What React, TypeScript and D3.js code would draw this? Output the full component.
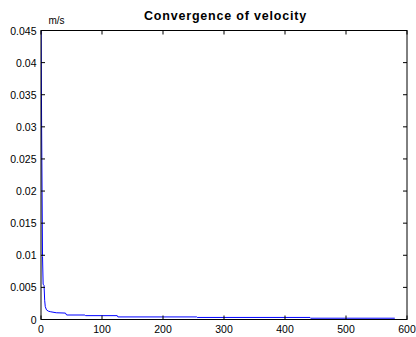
import React from "react";
import * as d3 from "d3";

const iterations = [0, 1, 2.5, 3.5, 5, 6, 7, 9, 12, 16, 25, 40, 42, 72, 73, 125, 126, 255, 256, 441, 442, 580];
const velocity = [0.05, 0.03, 0.0098, 0.0055, 0.0053, 0.003, 0.002, 0.0015, 0.0013, 0.0012, 0.00105, 0.001, 0.0007, 0.0007, 0.0006, 0.0006, 0.0004, 0.0004, 0.00032, 0.00032, 0.0002, 0.0002];
const xTicks = [0, 100, 200, 300, 400, 500, 600];
const yTicks = [0, 0.005, 0.01, 0.015, 0.02, 0.025, 0.03, 0.035, 0.04, 0.045];
const yTickLabels = ["0", "0.005", "0.01", "0.015", "0.02", "0.025", "0.03", "0.035", "0.04", "0.045"];
const title = "Convergence of velocity";
const unit = "m/s";

const W = 416, H = 337;
const L = 41, R = 407, T = 30.5, B = 319.5;

export default function App() {
  const x = d3.scaleLinear().domain([0, 600]).range([L, R]);
  const y = d3.scaleLinear().domain([0, 0.045]).range([B, T]);
  const pts = iterations.map((v, i) => [v, velocity[i]] as [number, number]);
  const line = d3.line<[number, number]>().x(d => x(d[0])).y(d => y(d[1]));
  const font = "Arial, 'Liberation Sans', sans-serif";
  const tl = 4;
  return (
    <svg width={W} height={H} style={{ position: "absolute", left: 0, top: 0, background: "#fff" }}>
      <defs>
        <clipPath id="plot"><rect x={L} y={T} width={R - L} height={B - T} /></clipPath>
      </defs>
      <rect x={0} y={0} width={W} height={H} fill="#fff" />
      <text x={225.5} y={20} textAnchor="middle" fontFamily={font} fontWeight="bold" fontSize={12.5} letterSpacing={0.8}>{title}</text>
      <text x={48.5} y={24} fontFamily={font} fontSize={10}>{unit}</text>
      <path d={line(pts) || ""} fill="none" stroke="#0000ff" strokeWidth={1} clipPath="url(#plot)" />
      <rect x={L} y={T} width={R - L} height={B - T} fill="none" stroke="#000" strokeWidth={1} />
      {xTicks.map(t => (
        <g key={"x" + t}>
          <line x1={x(t)} x2={x(t)} y1={B} y2={B - tl} stroke="#000" />
          <line x1={x(t)} x2={x(t)} y1={T} y2={T + tl} stroke="#000" />
          <text x={x(t)} y={333} textAnchor="middle" fontFamily={font} fontSize={10.5}>{t}</text>
        </g>
      ))}
      {yTicks.map((t, i) => (
        <g key={"y" + t}>
          <line x1={L} x2={L + tl} y1={y(t)} y2={y(t)} stroke="#000" />
          <line x1={R} x2={R - tl} y1={y(t)} y2={y(t)} stroke="#000" />
          <text x={36.5} y={y(t) + 4} textAnchor="end" fontFamily={font} fontSize={10.5}>{yTickLabels[i]}</text>
        </g>
      ))}
    </svg>
  );
}
